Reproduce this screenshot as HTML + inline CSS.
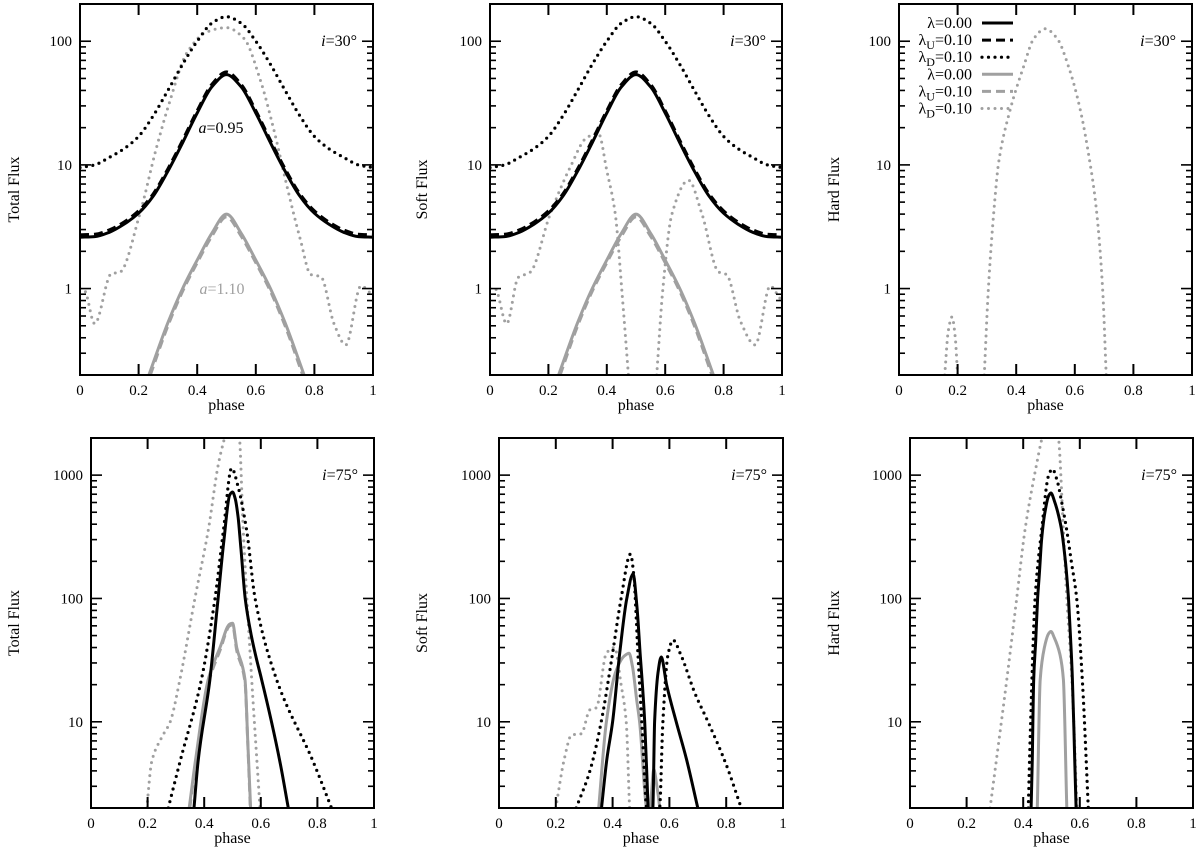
<!DOCTYPE html>
<html><head><meta charset="utf-8"><style>
html,body{margin:0;padding:0;background:#fff;}
svg{display:block;font-family:"Liberation Serif","DejaVu Serif",serif;}
</style></head><body>
<svg id="fig" width="1200" height="851" viewBox="0 0 1200 851"></svg>
<script>
// ---------- DATA (phase, flux) ----------
const phaseTicks = [0, 0.2, 0.4, 0.6, 0.8, 1];
const phaseTickLabels = ["0", "0.2", "0.4", "0.6", "0.8", "1"];
const topFluxTicks = [1, 10, 100];
const topFluxTickLabels = ["1", "10", "100"];
const botFluxTicks = [10, 100, 1000];
const botFluxTickLabels = ["10", "100", "1000"];

// i=30 black (a=0.95) shared total/soft
const i30_blackSolid = [[0,2.6],[0.05,2.63],[0.1,2.85],[0.15,3.31],[0.2,4.07],[0.25,5.6],[0.3,8.9],[0.35,15.1],[0.4,26.3],[0.45,42.7],[0.5,53.7],[0.55,42.7],[0.6,26.3],[0.65,15.1],[0.7,8.9],[0.75,5.6],[0.8,4.07],[0.85,3.31],[0.9,2.85],[0.95,2.63],[1,2.6]];
const i30_blackDash = [[0,2.72],[0.05,2.75],[0.1,2.98],[0.15,3.45],[0.2,4.25],[0.25,5.85],[0.3,9.3],[0.35,15.8],[0.4,27.5],[0.45,44.8],[0.5,56.5],[0.55,44.8],[0.6,27.5],[0.65,15.8],[0.7,9.3],[0.75,5.85],[0.8,4.25],[0.85,3.45],[0.9,2.98],[0.95,2.75],[1,2.72]];
const i30_blackDot = [[0,9.5],[0.05,10],[0.1,11.5],[0.15,13.5],[0.2,17],[0.25,25],[0.3,40],[0.35,65],[0.4,100],[0.45,140],[0.5,158],[0.55,140],[0.6,100],[0.65,65],[0.7,40],[0.75,25],[0.8,17],[0.85,13.5],[0.9,11.5],[0.95,10],[1,9.5]];
// i=30 gray (a=1.10)
const i30_graySolid = [[0.235,0.2],[0.3,0.53],[0.35,1.0],[0.4,1.7],[0.45,2.8],[0.5,4.0],[0.55,2.8],[0.6,1.7],[0.65,1.0],[0.7,0.53],[0.765,0.2]];
const i30_grayDash = [[0.24,0.2],[0.3,0.5],[0.35,0.95],[0.4,1.62],[0.45,2.65],[0.5,3.8],[0.55,2.65],[0.6,1.62],[0.65,0.95],[0.7,0.5],[0.76,0.2]];
const total30_grayDot = [[0,1.0],[0.016,0.96],[0.05,0.52],[0.107,1.32],[0.135,1.35],[0.204,4],[0.261,13.8],[0.307,33],[0.364,80],[0.433,119],[0.5,129],[0.56,105],[0.616,48],[0.662,19],[0.707,6.6],[0.753,2.45],[0.787,1.3],[0.822,1.25],[0.867,0.52],[0.907,0.35],[0.959,1.05],[0.99,0.92],[1,0.85]];
const soft30_grayDot = [[0,1.0],[0.017,1.0],[0.057,0.52],[0.097,1.23],[0.137,1.35],[0.206,4],[0.274,9.5],[0.331,16.6],[0.371,18],[0.4,9],[0.429,4],[0.451,1],[0.474,0.2],null,[0.571,0.2],[0.592,1],[0.623,4],[0.68,7.5],[0.726,4],[0.783,1.36],[0.81,1.3],[0.857,0.55],[0.908,0.35],[0.96,1.05],[0.99,0.85],[1,0.8]];
const hard30_grayDot = [[0.156,0.2],[0.168,0.45],[0.181,0.59],[0.192,0.4],[0.2,0.2],null,[0.291,0.2],[0.305,1],[0.327,5.2],[0.339,10],[0.379,27.6],[0.425,62],[0.46,105],[0.499,126],[0.54,105],[0.579,62],[0.619,27.6],[0.653,10],[0.67,5.2],[0.695,1],[0.707,0.2]];

// i=75
const total75_blackSolid = [[0.364,2],[0.378,4.7],[0.42,22],[0.449,100],[0.47,300],[0.49,690],[0.5,730],[0.51,640],[0.52,450],[0.53,250],[0.545,100],[0.565,52],[0.585,32],[0.603,22],[0.668,4.7],[0.697,2]];
const total75_blackDot = [[0.273,2],[0.314,4.7],[0.39,22],[0.438,100],[0.468,355],[0.497,1140],[0.52,800],[0.55,355],[0.58,100],[0.656,22],[0.786,4.7],[0.85,2]];
const total75_graySolid = [[0.347,2],[0.37,5],[0.414,22],[0.456,40],[0.49,62],[0.5,63],[0.515,40],[0.544,22],[0.555,6],[0.564,2]];
const total75_grayDash = [[0.349,2],[0.372,5],[0.416,21],[0.456,38],[0.49,60],[0.5,61],[0.515,38],[0.544,21],[0.555,5.8],[0.563,2]];
const total75_grayDot = [[0.197,2],[0.214,4.7],[0.25,7.5],[0.28,10],[0.314,22],[0.367,100],[0.414,355],[0.45,1230],[0.474,2100],[0.49,3000],[0.51,3000],[0.524,2100],[0.538,355],[0.568,22],[0.597,2]];

const soft75_blackSolid = [[0.361,2],[0.38,5],[0.4,10],[0.425,36],[0.45,100],[0.472,158],[0.485,90],[0.497,36],[0.513,10],[0.525,2],[0.533,0.8],[0.542,2],[0.548,10],[0.56,25],[0.571,33.5],[0.59,20],[0.624,10],[0.66,5],[0.7,2]];
const soft75_blackDot = [[0.272,2],[0.32,4],[0.36,10],[0.4,36],[0.43,100],[0.463,229],[0.475,150],[0.489,36],[0.505,8],[0.519,2],[0.54,0.9],[0.566,2],[0.577,10],[0.595,35],[0.613,46],[0.64,35],[0.69,17],[0.736,10],[0.8,4.5],[0.853,2]];
const soft75_graySolid = [[0.351,2],[0.378,10],[0.41,25],[0.44,34],[0.458,36],[0.47,28],[0.485,15],[0.495,10],[0.519,2],[0.528,1.6],[0.536,2.5],[0.545,4.1],[0.556,3],[0.566,2],[0.575,1]];
const soft75_grayDot = [[0.2,2],[0.23,5],[0.255,7.8],[0.29,8],[0.32,12.5],[0.343,13],[0.378,36],[0.407,40],[0.43,20],[0.448,10],[0.46,2],[0.47,0.8]];

const hard75_blackSolid = [[0.428,2],[0.432,5],[0.437,22],[0.444,45],[0.451,100],[0.458,170],[0.465,300],[0.478,520],[0.49,680],[0.498,716],[0.51,620],[0.525,470],[0.536,355],[0.55,190],[0.56,100],[0.568,45],[0.574,22],[0.582,5],[0.587,2]];
const hard75_blackDot = [[0.418,2],[0.425,8],[0.442,100],[0.465,355],[0.49,1000],[0.503,1120],[0.52,900],[0.535,620],[0.554,355],[0.57,200],[0.589,100],[0.61,20],[0.63,2]];
const hard75_graySolid = [[0.45,2],[0.46,22],[0.475,40],[0.49,52],[0.498,54],[0.51,48],[0.53,35],[0.542,22],[0.554,2]];
const hard75_grayDot = [[0.283,2],[0.342,22],[0.377,100],[0.406,355],[0.44,1000],[0.469,2100],[0.49,3000],[0.51,3000],[0.524,2100],[0.542,355],[0.554,100],[0.572,22],[0.59,2]];

// ---------- STYLES ----------
const ST = {
  kSolid:{stroke:"#000",w:3,dash:null,cap:"butt"},
  kDash:{stroke:"#000",w:3,dash:"9 5",cap:"butt"},
  kDot:{stroke:"#000",w:3.2,dash:"0 6.5",cap:"round"},
  gSolid:{stroke:"#a0a0a0",w:3,dash:null,cap:"butt"},
  gDash:{stroke:"#a0a0a0",w:3,dash:"9 5",cap:"butt"},
  gDot:{stroke:"#a0a0a0",w:3,dash:"0 6.5",cap:"round"}
};

const panels = [
  {id:"total-30",x0:80,x1:373,y0:4,y1:375,lo:0.2,hi:200,ticks:topFluxTicks,labels:topFluxTickLabels,title:"Total Flux",tx:14,inc:"30",series:[["gray-dotted",total30_grayDot,"gDot"],["gray-dashed",i30_grayDash,"gDash"],["gray-solid",i30_graySolid,"gSolid"],["black-dotted",i30_blackDot,"kDot"],["black-dashed",i30_blackDash,"kDash"],["black-solid",i30_blackSolid,"kSolid"]]},
  {id:"soft-30",x0:490,x1:782,y0:4,y1:375,lo:0.2,hi:200,ticks:topFluxTicks,labels:topFluxTickLabels,title:"Soft Flux",tx:422,inc:"30",series:[["gray-dotted",soft30_grayDot,"gDot"],["gray-dashed",i30_grayDash,"gDash"],["gray-solid",i30_graySolid,"gSolid"],["black-dotted",i30_blackDot,"kDot"],["black-dashed",i30_blackDash,"kDash"],["black-solid",i30_blackSolid,"kSolid"]]},
  {id:"hard-30",x0:899,x1:1192,y0:4,y1:375,lo:0.2,hi:200,ticks:topFluxTicks,labels:topFluxTickLabels,title:"Hard Flux",tx:834,inc:"30",series:[["gray-dotted",hard30_grayDot,"gDot"]]},
  {id:"total-75",x0:91,x1:374,y0:438,y1:808,lo:2,hi:2000,ticks:botFluxTicks,labels:botFluxTickLabels,title:"Total Flux",tx:14,inc:"75",series:[["gray-dotted",total75_grayDot,"gDot"],["gray-dashed",total75_grayDash,"gDash"],["gray-solid",total75_graySolid,"gSolid"],["black-dotted",total75_blackDot,"kDot"],["black-solid",total75_blackSolid,"kSolid"]]},
  {id:"soft-75",x0:499,x1:783,y0:438,y1:808,lo:2,hi:2000,ticks:botFluxTicks,labels:botFluxTickLabels,title:"Soft Flux",tx:422,inc:"75",series:[["gray-dotted",soft75_grayDot,"gDot"],["gray-solid",soft75_graySolid,"gSolid"],["black-dotted",soft75_blackDot,"kDot"],["black-solid",soft75_blackSolid,"kSolid"]]},
  {id:"hard-75",x0:910,x1:1193,y0:438,y1:808,lo:2,hi:2000,ticks:botFluxTicks,labels:botFluxTickLabels,title:"Hard Flux",tx:834,inc:"75",series:[["gray-dotted",hard75_grayDot,"gDot"],["gray-solid",hard75_graySolid,"gSolid"],["black-dotted",hard75_blackDot,"kDot"],["black-solid",hard75_blackSolid,"kSolid"]]}
];

const NS = "http://www.w3.org/2000/svg";
const svg = document.getElementById("fig");
function mk(tag, attrs, parent){
  const e = document.createElementNS(NS, tag);
  for (const k in attrs) e.setAttribute(k, attrs[k]);
  (parent||svg).appendChild(e);
  return e;
}

// monotone cubic (Fritsch-Carlson) path through pixel points sorted by x
function monotone(pts){
  const n = pts.length;
  if (n < 2) return "";
  const dx = [], sl = [];
  for (let i = 0; i < n-1; i++){
    dx.push(pts[i+1][0]-pts[i][0]);
    sl.push((pts[i+1][1]-pts[i][1]) / (dx[i] || 1e-6));
  }
  const m = new Array(n);
  m[0] = sl[0]; m[n-1] = sl[n-2];
  for (let i = 1; i < n-1; i++){
    if (sl[i-1]*sl[i] <= 0) m[i] = 0;
    else {
      const w1 = 2*dx[i] + dx[i-1], w2 = dx[i] + 2*dx[i-1];
      m[i] = (w1 + w2) / (w1/sl[i-1] + w2/sl[i]);
    }
  }
  let d = "M" + pts[0][0].toFixed(1) + "," + pts[0][1].toFixed(1);
  for (let i = 0; i < n-1; i++){
    const h = dx[i]/3;
    d += "C" + (pts[i][0]+h).toFixed(1) + "," + (pts[i][1]+m[i]*h).toFixed(1) + " " +
         (pts[i+1][0]-h).toFixed(1) + "," + (pts[i+1][1]-m[i+1]*h).toFixed(1) + " " +
         pts[i+1][0].toFixed(1) + "," + pts[i+1][1].toFixed(1);
  }
  return d;
}

panels.forEach((P, pi) => {
  const g = mk("g", {});
  
  
  const xS = p => P.x0 + p * (P.x1 - P.x0);
  const yS = v => P.y1 - (Math.log10(v) - Math.log10(P.lo)) / (Math.log10(P.hi) - Math.log10(P.lo)) * (P.y1 - P.y0);

  const cp = mk("clipPath", {id:"clip" + pi}, g);
  mk("rect", {x:P.x0, y:P.y0, width:P.x1-P.x0, height:P.y1-P.y0}, cp);

  const sg = mk("g", {"clip-path":"url(#clip"+pi+")"}, g);
  P.series.forEach(s => {
    const st = ST[s[2]];
    const segs = [[]];
    s[1].forEach(pt => { if (pt === null) segs.push([]); else segs[segs.length-1].push([xS(pt[0]), yS(pt[1])]); });
    const d = segs.map(monotone).join(" ");
    const path = mk("path", {d:d, fill:"none", stroke:st.stroke, "stroke-width":st.w, "stroke-linecap":st.cap, "stroke-linejoin":"round"}, sg);
    if (st.dash) path.setAttribute("stroke-dasharray", st.dash);
    
    
  });

  const fr = mk("rect", {x:P.x0, y:P.y0, width:P.x1-P.x0, height:P.y1-P.y0, fill:"none", stroke:"#000", "stroke-width":2}, g);
  
  

  phaseTicks.forEach((t, i) => {
    const x = xS(t);
    if (i > 0 && i < phaseTicks.length - 1){
      mk("line", {x1:x, x2:x, y1:P.y1, y2:P.y1-11, stroke:"#000", "stroke-width":2}, g);
      mk("line", {x1:x, x2:x, y1:P.y0, y2:P.y0+11, stroke:"#000", "stroke-width":2}, g);
    }
    const tl = mk("text", {x:x, y:P.y1+20, "text-anchor":"middle", "font-size":15}, g);
    tl.textContent = phaseTickLabels[i];
    
    
  });
  const xt = mk("text", {x:(P.x0+P.x1)/2, y:P.y1+35, "text-anchor":"middle", "font-size":16}, g);
  xt.textContent = "phase";
  
  

  const e0 = Math.floor(Math.log10(P.lo)), e1 = Math.ceil(Math.log10(P.hi));
  for (let e = e0; e <= e1; e++){
    for (let mm = 1; mm <= 9; mm++){
      const v = mm * Math.pow(10, e);
      if (v < P.lo * 0.999 || v > P.hi * 1.001) continue;
      const y = yS(v), len = mm === 1 ? 11 : 6;
      if (Math.abs(y - P.y1) < 1 || Math.abs(y - P.y0) < 1) continue;
      mk("line", {x1:P.x0, x2:P.x0+len, y1:y, y2:y, stroke:"#000", "stroke-width":1.6}, g);
      mk("line", {x1:P.x1, x2:P.x1-len, y1:y, y2:y, stroke:"#000", "stroke-width":1.6}, g);
    }
  }
  P.ticks.forEach((v, i) => {
    const yl = mk("text", {x:P.x0-8, y:yS(v)+5, "text-anchor":"end", "font-size":15}, g);
    yl.textContent = P.labels[i];
    
    
  });
  const cy = (P.y0 + P.y1) / 2;
  const yt = mk("text", {x:P.tx, y:cy, "text-anchor":"middle", "font-size":16, transform:"rotate(-90 "+P.tx+" "+cy+")"}, g);
  yt.setAttribute("dy", "5");
  yt.textContent = P.title;
  
  

  const il = mk("text", {x:P.x1-16, y:(P.ticks === topFluxTicks ? yS(100) : yS(1000))+5, "text-anchor":"end", "font-size":16}, g);
  il.innerHTML = '<tspan font-style="italic">i</tspan>=' + P.inc + '°';
  
  
});

const a1 = mk("text", {x:221, y:133, "text-anchor":"middle", "font-size":16, fill:"#000"});
a1.innerHTML = '<tspan font-style="italic">a</tspan>=0.95';


const a2 = mk("text", {x:222, y:294, "text-anchor":"middle", "font-size":16, fill:"#a0a0a0"});
a2.innerHTML = '<tspan font-style="italic">a</tspan>=1.10';



const legendLabels = [["λ","","=0.00"],["λ","U","=0.10"],["λ","D","=0.10"],["λ","","=0.00"],["λ","U","=0.10"],["λ","D","=0.10"]];
const legendStyles = ["kSolid","kDash","kDot","gSolid","gDash","gDot"];
const lg = mk("g", {});


legendLabels.forEach((L, i) => {
  const y = 23 + i * 17.1;
  const t = mk("text", {x:972, y:y+5, "text-anchor":"end", "font-size":16}, lg);
  t.innerHTML = L[0] + (L[1] ? '<tspan font-size="12" dy="4">' + L[1] + '</tspan><tspan dy="-4">' + L[2] + '</tspan>' : L[2]);
  
  
  const st = ST[legendStyles[i]];
  const ln = mk("line", {x1:982, x2:1013, y1:y, y2:y, stroke:st.stroke, "stroke-width":st.w, "stroke-linecap":st.cap}, lg);
  if (st.dash) ln.setAttribute("stroke-dasharray", st.dash);
  
  
});
</script>
</body></html>
